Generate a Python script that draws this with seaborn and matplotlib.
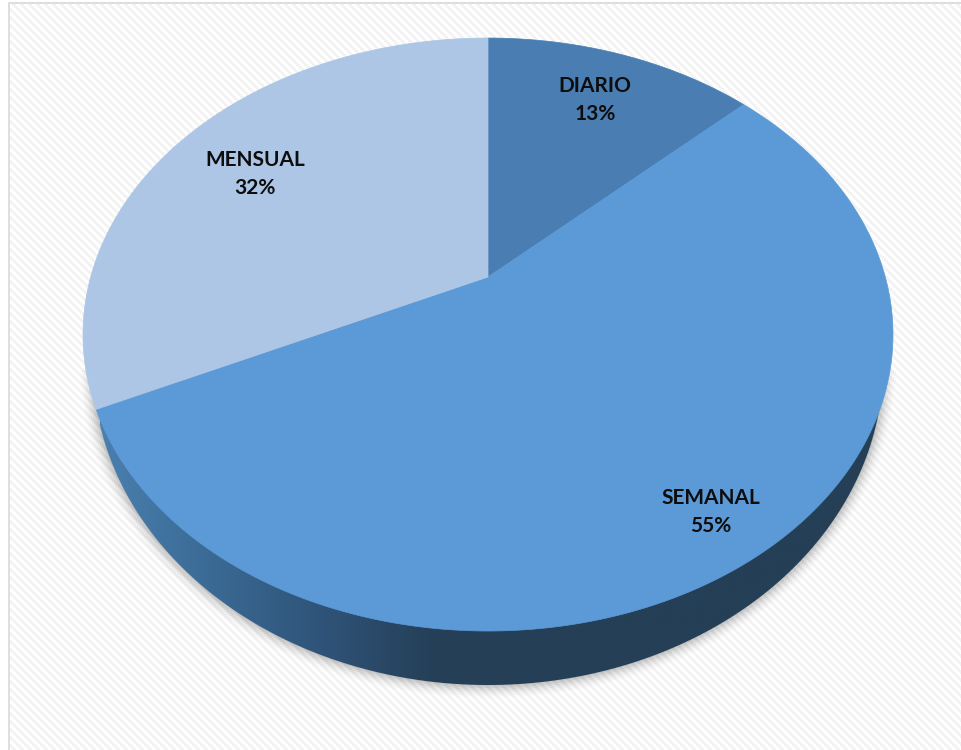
import numpy as np
import matplotlib
matplotlib.use('Agg')
import matplotlib.pyplot as plt
from matplotlib.patches import Polygon, Rectangle
import seaborn as sns

categories = ['DIARIO', 'SEMANAL', 'MENSUAL']
values = [13, 55, 32]

slice_colors = ['#4a7eb2', '#5b9ad6', '#adc6e6']
wall_colors = ['#4a7fae', '#3a6a94', '#2f5378', '#253f57', '#243f56', '#243f56', '#243f56', '#243f56']
label_pos = [(595, 100), (711, 512), (255, 174)]

W, H = 961, 750

sns.set_theme(style='white')
plt.rcParams['font.family'] = ['Lato', 'DejaVu Sans']

# perspective of the pie top, unit circle -> pixels
CX, APEX_Y = 488, 277
D, A, C = 397.3, -231.6, 0.194


def warp(u, v):
    w = 1 + C * v
    return CX + D * u / w, (A * v + APEX_Y) / w


def ellipse(cx, cy, rx, ry):
    t = np.linspace(0, 2 * np.pi, 500)
    return np.column_stack([cx + rx * np.cos(t), cy + ry * np.sin(t)])


fig = plt.figure(figsize=(W / 100, H / 100), dpi=100)
ax = fig.add_axes([0, 0, 1, 1])

# the library works out the slice angles, they get warped below
wedges, _ = ax.pie(values, startangle=90, counterclock=False, colors=slice_colors)
for wedge in wedges:
    wedge.set_visible(False)

ax.set_aspect('auto')
ax.axis('off')

# background weave
yy, xx = np.mgrid[0:H, 0:W]
weave = (xx // 2 - yy // 2) % 4 < 2
bg = np.where(weave, 0.955, 1.0)
bg[:, :8] = 1.0
bg[:2, :] = 1.0
bg[2:4, 8:] = 0.87
bg[2:, 8:10] = 0.87
ax.imshow(bg, cmap='gray', vmin=0, vmax=1, extent=(0, W, H, 0), aspect='auto', zorder=0,
          interpolation='nearest')

# soft shadow around the wall, only below the rim
shadow_clip = Rectangle((0, 370), W, H - 370, transform=ax.transData)
for grow, alpha in zip([13, 11, 9, 7, 5, 3, 1], [0.012, 0.018, 0.025, 0.035, 0.045, 0.055, 0.06]):
    shade = Polygon(ellipse(488, 365, 395 + grow, 320 + grow), closed=True,
                    facecolor='black', edgecolor='none', alpha=alpha, zorder=1)
    ax.add_patch(shade)
    shade.set_clip_path(shadow_clip)

# wall of the pie
wall = Polygon(ellipse(488, 365, 395, 320), closed=True, facecolor='none', edgecolor='none', zorder=2)
ax.add_patch(wall)
cmap = sns.blend_palette(wall_colors, as_cmap=True)
grad = ax.imshow(np.linspace(0, 1, 512)[None, :], cmap=cmap, extent=(100, 880, 700, 380),
                 aspect='auto', zorder=2)
grad.set_clip_path(wall)
ax.set_xlim(0, W)
ax.set_ylim(H, 0)

# top of the pie
for wedge, color in zip(wedges, slice_colors):
    t = np.radians(np.linspace(wedge.theta1, wedge.theta2, 300))
    u = np.r_[0, wedge.r * np.cos(t)]
    v = np.r_[0, wedge.r * np.sin(t)]
    x, y = warp(u, v)
    ax.add_patch(Polygon(np.column_stack([x, y]), closed=True, facecolor=color,
                         edgecolor=color, linewidth=0.5, zorder=3))

total = sum(values)
for name, val, (lx, ly) in zip(categories, values, label_pos):
    ax.text(lx, ly, f'{name}\n{round(100 * val / total)}%', ha='center', va='center',
            fontsize=15, fontweight='bold', color='#0d0d0d', linespacing=1.55, zorder=4)

fig.savefig('out.png', dpi=100)
